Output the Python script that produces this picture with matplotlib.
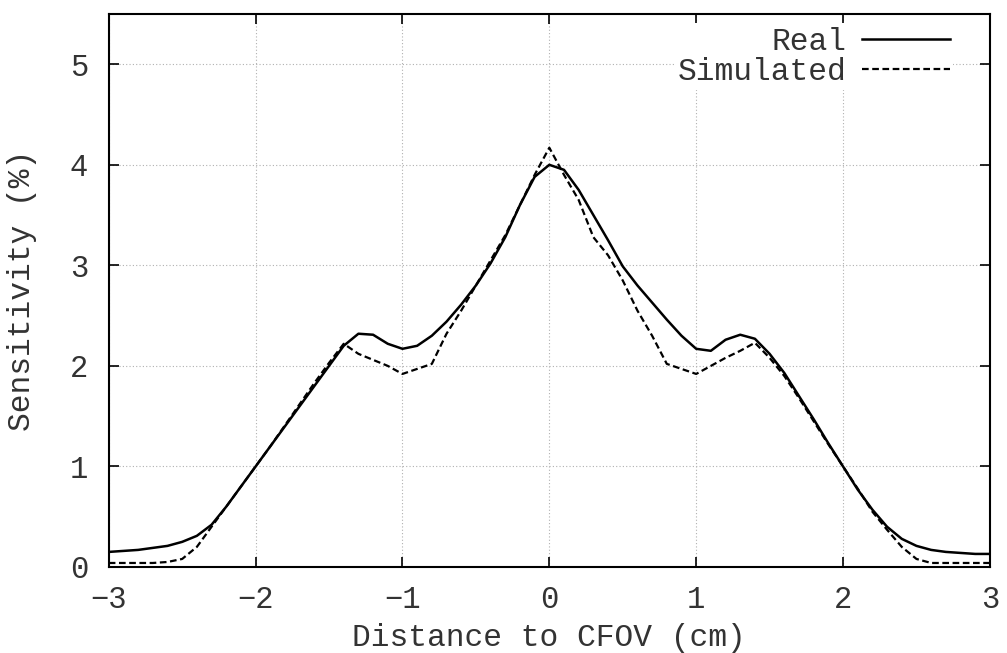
import matplotlib.pyplot as plt

plt.rcParams['font.family'] = ['Liberation Mono', 'DejaVu Sans Mono']

# distance to CFOV (cm)
x = [-3.0, -2.9, -2.8, -2.7, -2.6, -2.5, -2.4, -2.3, -2.2, -2.1,
     -2.0, -1.9, -1.8, -1.7, -1.6, -1.5, -1.4, -1.3, -1.2, -1.1,
     -1.0, -0.9, -0.8, -0.7, -0.6, -0.5, -0.4, -0.3, -0.2, -0.1,
     0.0, 0.1, 0.2, 0.3, 0.4, 0.5, 0.6, 0.7, 0.8, 0.9,
     1.0, 1.1, 1.2, 1.3, 1.4, 1.5, 1.6, 1.7, 1.8, 1.9,
     2.0, 2.1, 2.2, 2.3, 2.4, 2.5, 2.6, 2.7, 2.8, 2.9, 3.0]

real = [0.15, 0.16, 0.17, 0.19, 0.21, 0.25, 0.31, 0.42, 0.60, 0.80,
        1.00, 1.20, 1.40, 1.60, 1.80, 2.00, 2.20, 2.32, 2.31, 2.22,
        2.17, 2.20, 2.30, 2.44, 2.61, 2.80, 3.02, 3.28, 3.60, 3.88,
        4.00, 3.95, 3.75, 3.50, 3.25, 2.99, 2.80, 2.63, 2.46, 2.30,
        2.17, 2.15, 2.26, 2.31, 2.27, 2.12, 1.93, 1.70, 1.47, 1.23,
        1.00, 0.77, 0.57, 0.40, 0.28, 0.21, 0.17, 0.15, 0.14, 0.13, 0.13]

simulated = [0.04, 0.04, 0.04, 0.04, 0.05, 0.08, 0.20, 0.40, 0.60, 0.80,
             1.00, 1.20, 1.41, 1.62, 1.83, 2.03, 2.22, 2.12, 2.06, 2.00,
             1.92, 1.97, 2.02, 2.32, 2.55, 2.80, 3.05, 3.30, 3.60, 3.90,
             4.17, 3.90, 3.65, 3.28, 3.10, 2.85, 2.55, 2.30, 2.02, 1.97,
             1.92, 2.00, 2.08, 2.15, 2.23, 2.08, 1.90, 1.68, 1.45, 1.22,
             1.00, 0.78, 0.55, 0.37, 0.20, 0.08, 0.04, 0.04, 0.04, 0.04, 0.04]

fig = plt.figure(figsize=(10.07, 6.53), dpi=100)
ax = fig.add_axes([0.108, 0.1317, 0.875, 0.8469])

ax.plot(x, real, color='black', lw=1.8, label='Real')
ax.plot(x, simulated, color='black', lw=1.6, ls=(0, (3, 1.6)), label='Simulated')

ax.set_xlim(-3, 3)
ax.set_ylim(0, 5.5)
ax.set_xticks([-3, -2, -1, 0, 1, 2, 3])
ax.set_xticklabels(['\u22123', '\u22122', '\u22121', '0', '1', '2', '3'])
ax.set_yticks([0, 1, 2, 3, 4, 5])
ax.grid(True, color='#b0b0b0', ls=(0, (1, 2)), lw=0.8)
ax.tick_params(direction='in', length=7, width=1.2, top=True, right=True,
               labelsize=22, colors='black', labelcolor='#333333')
ax.tick_params(axis='x', pad=13)
ax.tick_params(axis='y', pad=15)
for s in ax.spines.values():
    s.set_linewidth(1.5)

ax.set_xlabel('Distance to CFOV (cm)', fontsize=22.5, color='#333333', va='center')
ax.set_ylabel('Sensitivity (%)', fontsize=22.5, color='#333333', va='center')
ax.xaxis.set_label_coords(0.5, -0.129)
ax.yaxis.set_label_coords(-0.099, 0.5)

leg = ax.legend(loc='upper right', bbox_to_anchor=(0.958, 0.983), markerfirst=False,
                frameon=True, fontsize=22.5, handlelength=2.8, handletextpad=0.5,
                labelspacing=0.0, borderpad=0.1, borderaxespad=0)
leg.get_frame().set_facecolor('white')
leg.get_frame().set_edgecolor('none')
leg.get_frame().set_alpha(1)
leg.get_frame().set_boxstyle('square', pad=0)
for t in leg.get_texts():
    t.set_color('#333333')

fig.savefig('out.png', dpi=100)
